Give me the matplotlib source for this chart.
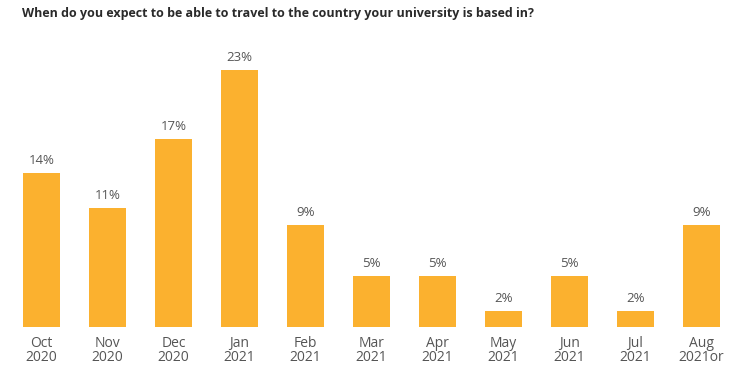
import matplotlib
matplotlib.use("Agg")
import matplotlib.pyplot as plt

categories = ["Oct\n2020", "Nov\n2020", "Dec\n2020", "Jan\n2021", "Feb\n2021", "Mar\n2021",
              "Apr\n2021", "May\n2021", "Jun\n2021", "Jul\n2021", "Aug\n2021or"]
values = [14, 11, 17, 23, 9.5, 5, 5, 2, 5, 2, 9.5]
value_labels = ["14%", "11%", "17%", "23%", "9%", "5%", "5%", "2%", "5%", "2%", "9%"]
title = "When do you expect to be able to travel to the country your university is based in?"

W, H = 751, 366
fig = plt.figure(figsize=(W / 100, H / 100), dpi=100)
fig.patch.set_facecolor("white")

base_px = 327.3
px_per_unit = 11.46
y0 = 0.55
x0_px = 41.5
step_px = 66.0

ax = fig.add_axes([0, (H - base_px) / H, 1, base_px / H])
ax.set_xlim(-x0_px / step_px, (W - x0_px) / step_px)
ax.set_ylim(y0, y0 + base_px / px_per_unit)
for s in ax.spines.values():
    s.set_visible(False)
ax.set_yticks([])

x = list(range(len(categories)))
ax.bar(x, values, width=37 / step_px, color="#FBB12F", linewidth=0)
for xi, v, lab in zip(x, values, value_labels):
    ax.annotate(lab, (xi, v), xytext=(0, 6), textcoords="offset pixels",
                ha="center", va="bottom", fontsize=9.5, family="Open Sans", color="#555555")

ax.set_xticks(x)
ax.set_xticklabels(categories, fontsize=10, family="Open Sans", color="#555555", linespacing=0.95)
ax.tick_params(axis="x", length=0, pad=6)

fig.text(22 / W, 1 - 13 / H, title, fontsize=9, fontweight="bold", family="Open Sans",
         color="#2a2a2a", ha="left", va="center")

fig.savefig("out.png", dpi=100)
